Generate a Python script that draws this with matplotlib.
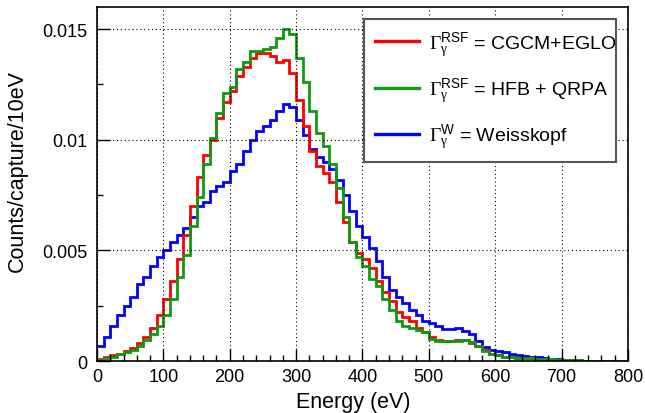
import numpy as np
import matplotlib
matplotlib.use("Agg")
import matplotlib.pyplot as plt
from matplotlib.ticker import MultipleLocator

plt.rcParams['font.family'] = ['Liberation Sans', 'DejaVu Sans']
plt.rcParams['mathtext.fontset'] = 'custom'
plt.rcParams['mathtext.rm'] = 'Liberation Serif'
plt.rcParams['mathtext.it'] = 'Liberation Serif'
plt.rcParams['mathtext.sf'] = 'Liberation Sans'

bin_edges = np.arange(0, 810, 10)

cgcm_eglo = [0.0001, 0.0002, 0.00027, 0.0003, 0.00045, 0.0006, 0.0008, 0.0011, 0.0015, 0.0021,
             0.0028, 0.0036, 0.0046, 0.0057, 0.0070, 0.0083, 0.0093, 0.0100, 0.0110, 0.0117,
             0.0122, 0.0129, 0.0133, 0.0137, 0.0139, 0.0139, 0.0138, 0.0135, 0.0136, 0.0130,
             0.0118, 0.0106, 0.0095, 0.0088, 0.0085, 0.0081, 0.0072, 0.0063, 0.0054, 0.0049,
             0.0046, 0.0042, 0.0036, 0.0031, 0.0027, 0.0022, 0.0020, 0.0018, 0.0015, 0.0013,
             0.0011, 0.00095, 0.0009, 0.0009, 0.00095, 0.00095, 0.0008, 0.0007, 0.0005, 0.0003,
             0.00027, 0.0002, 0.00018, 0.00015, 0.00013, 0.00012, 0.0001, 0.0001, 0.00008, 0.00006,
             0.00004, 0.00003, 0.00003, 0.00002, 0.00001, 0.00001, 0.00001, 0.00001, 0.00001, 0.00001]

hfb_qrpa = [0.00005, 0.00015, 0.0002, 0.0003, 0.0004, 0.0005, 0.0007, 0.00095, 0.0012, 0.0016,
            0.0021, 0.0028, 0.0038, 0.0048, 0.0061, 0.0074, 0.0089, 0.0101, 0.0112, 0.0121,
            0.0124, 0.0132, 0.0135, 0.0140, 0.0140, 0.0141, 0.0142, 0.0146, 0.0150, 0.0148,
            0.0137, 0.0126, 0.0113, 0.0103, 0.0097, 0.0089, 0.0078, 0.0065, 0.0054, 0.0047,
            0.0043, 0.0037, 0.0034, 0.0028, 0.0023, 0.0018, 0.0016, 0.0015, 0.0014, 0.0013,
            0.0010, 0.0009, 0.0009, 0.0009, 0.0009, 0.00095, 0.00085, 0.00068, 0.00045, 0.0003,
            0.00025, 0.0002, 0.00018, 0.00015, 0.00013, 0.00012, 0.0001, 0.0001, 0.00008, 0.00006,
            0.00004, 0.00003, 0.00003, 0.00002, 0.00001, 0.00001, 0.00001, 0.00001, 0.00001, 0.00001]

weisskopf = [0.00068, 0.00108, 0.00158, 0.00207, 0.00248, 0.0029, 0.00347, 0.0038, 0.0043, 0.0047,
             0.0050, 0.0054, 0.0057, 0.0060, 0.0065, 0.0070, 0.0072, 0.0077, 0.0079, 0.0081,
             0.0086, 0.0089, 0.0095, 0.0100, 0.0104, 0.0106, 0.0109, 0.0113, 0.0116, 0.0115,
             0.0109, 0.0102, 0.0096, 0.0092, 0.0090, 0.0087, 0.0082, 0.0075, 0.0068, 0.0061,
             0.0056, 0.0051, 0.0045, 0.0038, 0.0032, 0.0029, 0.0026, 0.0023, 0.0021, 0.0018,
             0.0017, 0.0016, 0.00145, 0.00145, 0.0015, 0.00135, 0.0012, 0.0009, 0.00063, 0.0005,
             0.00045, 0.0004, 0.0003, 0.00027, 0.00023, 0.0002, 0.00017, 0.00013, 0.0001, 0.00008,
             0.00005, 0.00003, 0.00002, 0.00002, 0.00001, 0.00001, 0.00001, 0.00001, 0.00001, 0.00001]

labels = [r'$\Gamma_{\gamma}^{\mathsf{RSF}}$ = CGCM+EGLO',
          r'$\Gamma_{\gamma}^{\mathsf{RSF}}$ = HFB + QRPA',
          r'$\Gamma_{\gamma}^{\mathsf{W}}$ = Weisskopf']
colors = ['#ff0000', '#119911', '#0000ff']

xticks = [0, 100, 200, 300, 400, 500, 600, 700, 800]
yticks = [0, 0.005, 0.01, 0.015]
ytick_labels = ['0', '0.005', '0.01', '0.015']

fig = plt.figure(figsize=(6.45, 4.14), dpi=100)
ax = fig.add_axes([0.1504, 0.1256, 0.8232, 0.8551])

series = [cgcm_eglo, hfb_qrpa, weisskopf]
order = [2, 0, 1]
handles = {}
for i in order:
    h = ax.stairs(series[i], bin_edges, color=colors[i], linewidth=2.0, baseline=None, label=labels[i])
    handles[i] = h

ax.set_xlim(0, 800)
ax.set_ylim(0, 0.016)
ax.set_xticks(xticks)
ax.set_xticklabels([str(v) for v in xticks])
ax.set_yticks(yticks)
ax.set_yticklabels(ytick_labels)
ax.xaxis.set_minor_locator(MultipleLocator(20))
ax.yaxis.set_minor_locator(MultipleLocator(0.0025))
ax.tick_params(axis='both', which='major', direction='in', length=9, width=1.0, labelsize=13,
               top=False, right=False)
ax.tick_params(axis='both', which='minor', direction='in', length=4.5, width=1.0,
               top=False, right=False)
ax.tick_params(axis='x', pad=5)
ax.tick_params(axis='y', pad=7)
ax.grid(True, which='major', linestyle=(0, (1, 2.5)), color='black', linewidth=0.8)
for sp in ax.spines.values():
    sp.set_linewidth(1.2)

ax.set_xlabel('Energy (eV)', fontsize=15.5)
ax.set_ylabel('Counts/capture/10eV', fontsize=15.5)
ax.xaxis.set_label_coords(0.482, -0.085)
ax.yaxis.set_label_coords(-0.13, 0.54)

leg = ax.legend([handles[0], handles[1], handles[2]], labels, loc='upper left',
                bbox_to_anchor=(0.503, 0.568, 0.474, 0.398), mode='expand',
                fontsize=14, handlelength=2.3, handletextpad=0.5, labelspacing=0.9,
                borderpad=0.55, fancybox=False, framealpha=1.0, borderaxespad=0)
leg.get_frame().set_edgecolor('#555555')
leg.get_frame().set_linewidth(1.5)
for line in leg.get_lines():
    line.set_linewidth(2.4)

fig.savefig('out.png', dpi=100)
